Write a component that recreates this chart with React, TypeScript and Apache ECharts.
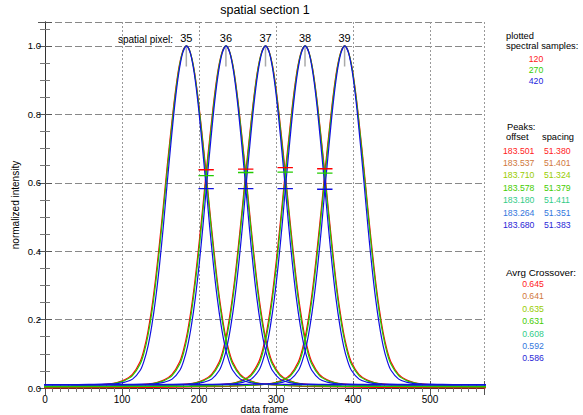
import React, { useEffect, useRef } from "react";
import * as echarts from "echarts";

// ---- data ----
const pixelLabels = ["35", "36", "37", "38", "39"];
const redCenters = [183.5, 234.9, 286.3, 337.6, 389.0];
const greenCenters = [183.6, 235.0, 286.3, 337.7, 389.1];
const blueCenters = [183.7, 235.1, 286.4, 337.8, 389.2];

// profile value at distance d (data frames) from a peak centre
const profileOffsets = [0, 5, 10, 15, 20, 25, 30, 35, 40, 45, 50, 55, 60, 70, 80, 90, 100, 120, 150, 200, 300, 600];
const redProfile = [1.0, 0.982, 0.932, 0.852, 0.752, 0.645, 0.53, 0.42, 0.318, 0.232, 0.163, 0.112, 0.077, 0.04, 0.024, 0.016, 0.012, 0.008, 0.005, 0.003, 0.001, 0.0];
const greenProfile = [1.0, 0.981, 0.929, 0.846, 0.743, 0.633, 0.517, 0.405, 0.304, 0.219, 0.152, 0.103, 0.07, 0.036, 0.022, 0.015, 0.011, 0.008, 0.006, 0.005, 0.004, 0.004];
const blueProfile = [1.0, 0.979, 0.921, 0.832, 0.72, 0.6, 0.474, 0.36, 0.262, 0.183, 0.122, 0.08, 0.052, 0.026, 0.017, 0.013, 0.012, 0.011, 0.01, 0.01, 0.01, 0.01];

// crossover markers
const crossX = [209.2, 260.6, 311.9, 363.3];
const redCross = [0.638, 0.64, 0.644, 0.641];
const greenCross = [0.621, 0.63, 0.631, 0.628];
const blueCross = [0.583, 0.583, 0.583, 0.581];

// right-hand annotations
const sampleLabels = ["120", "270", "420"];
const peakOffsets = ["183.501", "183.537", "183.710", "183.578", "183.180", "183.264", "183.680"];
const peakSpacings = ["51.380", "51.401", "51.324", "51.379", "51.411", "51.351", "51.383"];
const avgCrossover = ["0.645", "0.641", "0.635", "0.631", "0.608", "0.592", "0.586"];

const xTicks = [0, 100, 200, 300, 400, 500];
const yTicks = [0, 0.2, 0.4, 0.6, 0.8, 1.0];

const RED = "#ff0000";
const GREEN = "#22cc00";
const BLUE = "#1010e0";
const sampleColors = ["#ff2020", "#33cc00", "#2222dd"];
const rowColors = ["#ff2222", "#d0783c", "#99cc00", "#44cc00", "#33cc88", "#3377dd", "#2a1fd6"];

const FONT = "'Liberation Sans', Arial, Helvetica, sans-serif";

function profileSeries(centers: number[], prof: number[], color: string) {
  return centers.map((c) => {
    const pts: number[][] = [];
    for (let i = profileOffsets.length - 1; i > 0; i--) pts.push([c - profileOffsets[i], prof[i]]);
    pts.push([c, prof[0]]);
    for (let i = 1; i < profileOffsets.length; i++) pts.push([c + profileOffsets[i], prof[i]]);
    return {
      type: "line",
      data: pts,
      showSymbol: false,
      symbol: "none",
      smooth: 0.3,
      lineStyle: { color, width: 1.2 },
      clip: true,
      silent: true,
      z: 3,
    };
  });
}

function crossSeries(vals: number[], color: string) {
  return crossX.map((x, i) => ({
    type: "line",
    data: [
      [x - 10, vals[i]],
      [x + 10, vals[i]],
    ],
    showSymbol: false,
    symbol: "none",
    lineStyle: { color, width: 1.3 },
    silent: true,
    z: 4,
  }));
}

export default function App() {
  const ref = useRef<HTMLDivElement>(null);
  useEffect(() => {
    if (!ref.current) return;
    const chart = echarts.init(ref.current, null, { renderer: "svg" });

    const axisLine = { show: true, lineStyle: { color: "#333", width: 1 } };
    const xCommon = {
      type: "value",
      min: 0,
      max: 570,
      interval: 100,
      axisLine,
      axisTick: { show: true, inside: true, length: 7, lineStyle: { color: "#555" } },
      minorTick: { show: true, splitNumber: 10, length: 4, lineStyle: { color: "#777" } },
    };
    const yCommon = {
      type: "value",
      min: 0,
      max: 1.07,
      interval: 0.2,
      axisLine,
      axisTick: { show: true, inside: true, length: 7, lineStyle: { color: "#555" } },
      minorTick: { show: true, splitNumber: 4, length: 5, lineStyle: { color: "#777" } },
    };

    const head = `9.3px ${FONT}`;
    const num = `8.7px ${FONT}`;
    const graphics: any[] = [];
    const txt = (text: string, x: number, y: number, font: string, fill: string, align = "left", lh?: number) => ({
      type: "text",
      x,
      y,
      z: 100,
      style: { text, font, fill, textAlign: align, textVerticalAlign: "middle", lineHeight: lh },
    });
    graphics.push(txt("spatial section 1", 265, 10, `12.5px ${FONT}`, "#000", "center"));
    graphics.push(txt("spatial pixel:", 173, 39, `10px ${FONT}`, "#000", "right"));
    graphics.push(txt("plotted", 506, 36, head, "#000", "left", 9.4));
    graphics.push(txt("spectral samples:", 506, 46, head, "#000", "left", 9.4));
    sampleLabels.forEach((s, i) => graphics.push(txt(s, 536, 58.5 + i * 11.3, num, sampleColors[i], "center")));
    graphics.push(txt("Peaks:", 507, 127.3, head, "#000", "left", 9.4));
    graphics.push(txt("offset", 506, 137.3, head, "#000", "left", 9.4));
    graphics.push(txt("spacing", 542, 137.3, head, "#000", "left", 9.4));
    peakOffsets.forEach((s, i) => {
      graphics.push(txt(s, 503, 150.5 + i * 12.4, num, rowColors[i]));
      graphics.push(txt(peakSpacings[i], 544, 150.5 + i * 12.4, num, rowColors[i]));
    });
    graphics.push(txt("Avrg Crossover:", 506, 272, `9.8px ${FONT}`, "#000"));
    avgCrossover.forEach((s, i) => graphics.push(txt(s, 533, 284 + i * 12.4, num, rowColors[i], "center")));

    const peakMarks = redCenters.map((c) => ({
      type: "line",
      data: [
        [c, 0.94],
        [c, 1.0],
      ],
      showSymbol: false,
      symbol: "none",
      lineStyle: { color: "#aaa", width: 1.5 },
      silent: true,
      z: 2,
    }));

    chart.setOption({
      animation: false,
      backgroundColor: "#fff",
      textStyle: { fontFamily: FONT },
      grid: { left: 45, right: 99, top: 22, bottom: 27, containLabel: false, outerBoundsMode: "none" },
      xAxis: [
        {
          ...xCommon,
          position: "bottom",
          splitLine: { show: true, lineStyle: { color: "#999", type: [2, 2], width: 1 } },
          axisLabel: { show: true, color: "#000", fontSize: 10, margin: 6, fontFamily: FONT, formatter: (v: number) => (xTicks.includes(v) ? String(v) : "") },
          name: "data frame",
          nameLocation: "middle",
          nameGap: 16,
          nameMoveOverlap: false,
          nameTextStyle: { color: "#000", fontSize: 10, fontFamily: FONT, lineHeight: 10 },
        },
        {
          ...xCommon,
          position: "top",
          splitLine: { show: false },
          axisLabel: { show: false },
        },
      ],
      yAxis: [
        {
          ...yCommon,
          position: "left",
          splitLine: { show: true, lineStyle: { color: "#888", type: [7, 3], width: 1 } },
          axisLabel: {
            show: true, color: "#000", fontSize: 9.5, margin: 4, fontFamily: FONT, showMaxLabel: false,
            formatter: (v: number) => (yTicks.some((t) => Math.abs(t - v) < 1e-6) ? v.toFixed(1) : ""),
          },
          name: "normalized intensity",
          nameLocation: "middle",
          nameGap: 25,
          nameRotate: 90,
          nameMoveOverlap: false,
          nameTextStyle: { color: "#000", fontSize: 10, fontFamily: FONT },
        },
        {
          ...yCommon,
          position: "right",
          splitLine: { show: false },
          axisLabel: { show: false },
        },
      ],
      series: [
        ...peakMarks,
        ...profileSeries(redCenters, redProfile, RED),
        ...profileSeries(greenCenters, greenProfile, GREEN),
        ...profileSeries(blueCenters, blueProfile, BLUE),
        ...crossSeries(redCross, RED),
        ...crossSeries(greenCross, GREEN),
        ...crossSeries(blueCross, BLUE),
      ],
      graphic: graphics,
    });

    // spatial pixel numbers placed through the axis scales
    const pix = redCenters.map((c, i) => {
      const p = chart.convertToPixel({ xAxisIndex: 0, yAxisIndex: 0 }, [c, 1.0]) as number[];
      return txt(pixelLabels[i], p[0], p[1] - 8, `11px ${FONT}`, "#000", "center");
    });
    chart.setOption({ graphic: [...graphics, ...pix] });

    return () => chart.dispose();
  }, []);
  return <div ref={ref} style={{ position: "absolute", left: 0, top: 0, width: 583, height: 415, background: "#fff" }} />;
}
